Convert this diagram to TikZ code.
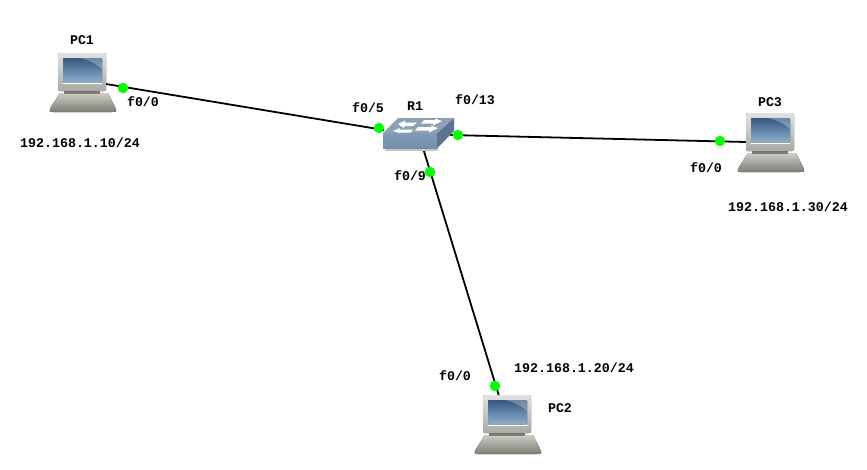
\documentclass[tikz,border=0pt]{standalone}
\usepackage{fontspec}
\setmonofont{Liberation Mono}
\definecolor{scrA}{RGB}{52,88,130}
\definecolor{scrB}{RGB}{140,175,205}
\definecolor{swF}{RGB}{112,142,172}
\definecolor{swFb}{RGB}{128,156,184}
\definecolor{swS}{RGB}{92,116,142}
\definecolor{swT}{RGB}{140,160,182}
\definecolor{baseA}{RGB}{205,205,198}
\definecolor{baseB}{RGB}{125,125,118}
\definecolor{monA}{RGB}{225,225,222}
\definecolor{monB}{RGB}{170,170,165}
\begin{document}
\begin{tikzpicture}[x=1pt,y=-1pt,
  lbl/.style={font=\ttfamily\bfseries\fontsize{13.3}{14}\selectfont,inner sep=0pt,text=black},
  port/.style={circle,fill=green,draw=none,minimum size=10.5pt,inner sep=0pt},
  link/.style={draw=black,line width=1.8pt},
  pcicon/.pic={
    \fill[top color=baseA,bottom color=baseB] (2,40) -- (50,40) -- (57,54) .. controls (59,59) .. (54,59) -- (-5,59) .. controls (-9,59) .. (-7,54) -- cycle;
    \fill[baseB] (6,38) rectangle (42,41);
    \fill[rounded corners=2pt,top color=monA,bottom color=monB] (0,0) rectangle (48,38);
    \fill[top color=scrA,bottom color=scrB,rounded corners=1pt] (5,5) rectangle (44,29);
    \fill[white,opacity=.28] (22,5) -- (44,5) -- (44,16) .. controls (38,10) and (30,7) .. cycle;
    \draw[white,line width=.6pt] (5,30) -- (44,30);
  }]
\useasboundingbox (0,0) rectangle (867,469);
\fill[white] (0,0) rectangle (867,469);
% connector anchors at the device icons
\coordinate (pc1c) at (106,84);
\coordinate (pc3c) at (746,142);
\coordinate (pc2c) at (499,396);
\coordinate (r1l) at (384,130);
\coordinate (r1r) at (450,135);
\coordinate (r1b) at (423,148);
% links
\draw[link] (pc1c) -- (r1l);
\draw[link] (r1r) -- (pc3c);
\draw[link] (r1b) -- (pc2c);
% devices
\pic at (58,53) {pcicon};
\pic at (746,113) {pcicon};
\pic at (483,395) {pcicon};
% switch
\fill[gray!45] (385,135) rectangle (438,150.5);
\fill[top color=swFb,bottom color=swF] (383,133) rectangle (437,148.5);
\fill[swS] (437,133) -- (454,118) -- (454,131) -- (437,148.5) -- cycle;
\fill[swT] (383,133) -- (398,118) -- (454,118) -- (437,133) -- cycle;
\fill[white] (398,124) -- (405,120.5) -- (405,122.5) -- (417,122.5) -- (413,126) -- (404,126) -- (404,128) -- cycle;
\fill[white] (442,121) -- (435,118.5) -- (435,120) -- (424,120) -- (421,123.5) -- (433,123.5) -- (433,125.5) -- cycle;
\fill[white] (393,131) -- (400,128) -- (400,129.5) -- (413,129.5) -- (411,132.5) -- (399,132.5) -- (399,133) -- cycle;
\fill[white] (438,128) -- (431,125.5) -- (431,127) -- (418,127) -- (415,130.5) -- (429,130.5) -- (429,132.5) -- cycle;
% ports
\node[port] (p1) at (123,88) {};
\node[port] (p2) at (379,128) {};
\node[port] (p3) at (458,135) {};
\node[port] (p4) at (430,172) {};
\node[port] (p5) at (720,141) {};
\node[port] (p6) at (495,386) {};
% labels
\node[lbl] (t1) at (82,40) {PC1};
\node[lbl] (t2) at (415,106) {R1};
\node[lbl] (t3) at (770,102) {PC3};
\node[lbl] (t4) at (560,408) {PC2};
\node[lbl] (t5) at (143,102) {f0/0};
\node[lbl] (t6) at (368,108) {f0/5};
\node[lbl] (t7) at (475,100) {f0/13};
\node[lbl] (t8) at (410,176) {f0/9};
\node[lbl] (t9) at (706,168) {f0/0};
\node[lbl] (t10) at (455,376) {f0/0};
\node[lbl] (t11) at (80,143) {192.168.1.10/24};
\node[lbl] (t12) at (788,207) {192.168.1.30/24};
\node[lbl] (t13) at (574,368) {192.168.1.20/24};
\end{tikzpicture}
\end{document}
